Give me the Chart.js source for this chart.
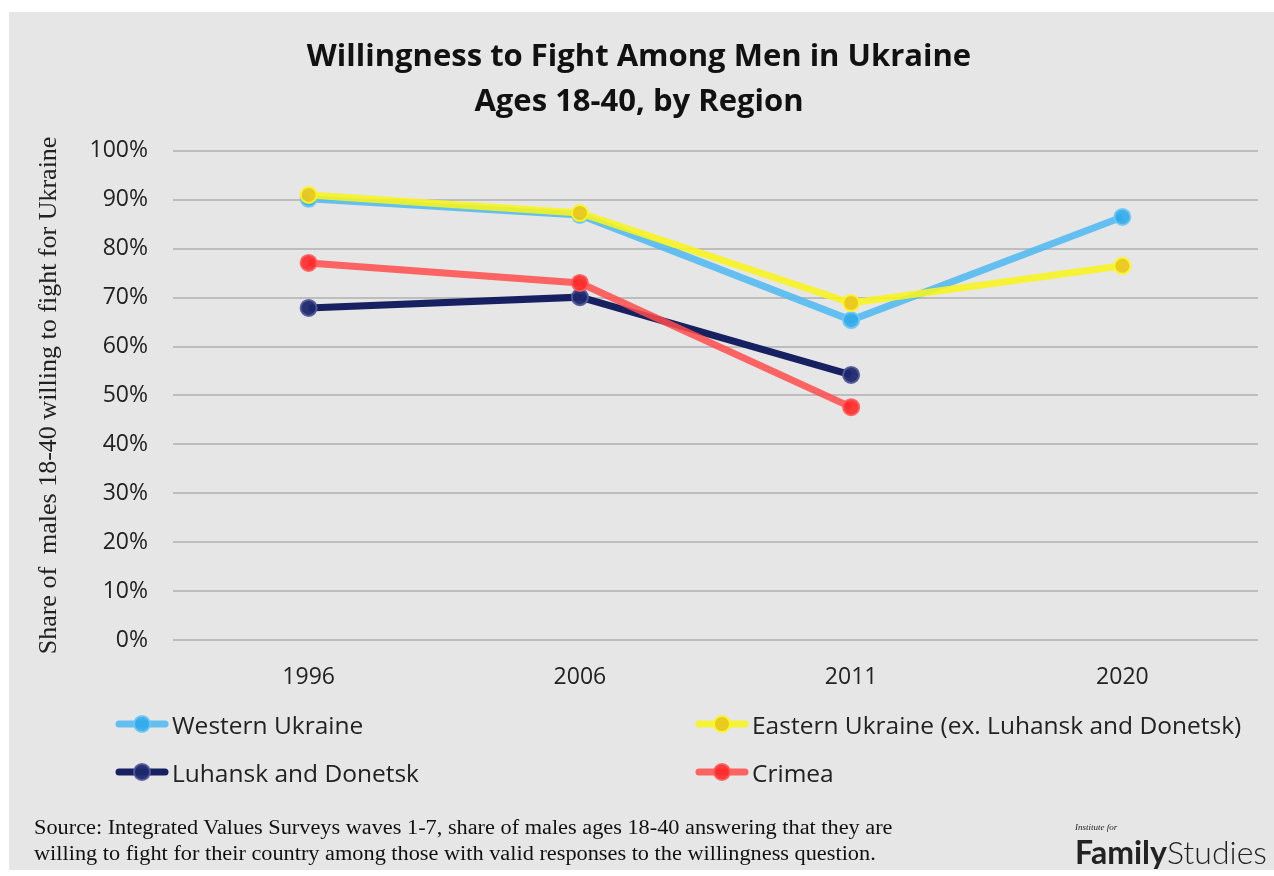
<!DOCTYPE html>
<html>
<head>
<meta charset="utf-8">
<script src="https://cdn.jsdelivr.net/npm/chart.js@4/dist/chart.umd.min.js"></script>
<style>
  html, body { margin: 0; padding: 0; background: #fff; }
  #wrap { position: relative; width: 1274px; height: 876px; overflow: hidden; }
  #panel { position: absolute; left: 9px; top: 12px; width: 1265px; height: 858px; background: #e6e6e6; }
  #chartBox { position: absolute; left: 0; top: 0; width: 1274px; height: 876px; }
  .leg { position: absolute; font-family: "Open Sans", sans-serif; font-size: 24.5px; color: #222; display: flex; align-items: center; }
  .leg canvas { margin-right: 3px; }
  #source { position: absolute; left: 34px; top: 814px; font-family: "Liberation Serif", serif; font-size: 20px; line-height: 26px; color: #111;
            transform: scaleX(1.115); transform-origin: left top; white-space: nowrap; }
  #logo { position: absolute; left: 1075px; top: 822px; font-family: Lato, sans-serif; color: #222; white-space: nowrap; }
  #logo .small { font-family: "Liberation Serif", serif; font-style: italic; font-size: 9px; display: block; }
  #logo .big { font-size: 32px; }
</style>
</head>
<body>
<div id="wrap">
  <div id="panel"></div>
  <div id="chartBox"><canvas id="c" width="1274" height="876"></canvas></div>
  <div id="legend"></div>
  <div id="source">Source: Integrated Values Surveys waves 1-7, share of males ages 18-40 answering that they are<br>willing to fight for their country among those with valid responses to the willingness question.</div>
  <div id="logo"><span class="small">Institute for</span><span class="big"><b>Family</b><span style="font-weight:300">Studies</span></span></div>
</div>
<script>
// Données
const years = ['1996', '2006', '2011', '2020'];
const western = [90.2, 86.9, 65.4, 86.5];
const eastern = [91.0, 87.3, 68.9, 76.5];
const luhansk = [67.9, 70.1, 54.2, null];
const crimea = [77.1, 73.0, 47.6, null];
const yTicks = [0, 10, 20, 30, 40, 50, 60, 70, 80, 90, 100];

// Séries : nom, valeurs, couleurs (ligne, remplissage du point, bord du point)
const series = [
    { label: 'Western Ukraine', data: western, line: 'rgba(80,185,240,0.88)', fill: 'rgba(45,170,235,0.9)', border: 'rgba(110,200,245,0.9)', order: 2 },
    { label: 'Eastern Ukraine (ex. Luhansk and Donetsk)', data: eastern, line: 'rgba(248,245,30,0.88)', fill: 'rgba(235,200,30,0.95)', border: 'rgba(250,245,40,0.95)', order: 0 },
    { label: 'Luhansk and Donetsk', data: luhansk, line: 'rgba(12,22,90,0.95)', fill: 'rgba(30,40,110,0.95)', border: 'rgba(80,90,150,0.95)', order: 3 },
    { label: 'Crimea', data: crimea, line: 'rgba(255,75,75,0.85)', fill: 'rgba(255,40,40,0.9)', border: 'rgba(255,90,90,0.9)', order: 1 }
];

// Légende en HTML, deux colonnes comme l'original
const legendPos = [[115, 706], [695, 706], [115, 754], [695, 754]];
const legendDiv = document.getElementById('legend');
series.forEach((s, i) => {
    const item = document.createElement('div');
    item.className = 'leg';
    item.style.left = legendPos[i][0] + 'px';
    item.style.top = legendPos[i][1] + 'px';
    const g = document.createElement('canvas');
    g.width = 54; g.height = 36;
    const ctx = g.getContext('2d');
    ctx.strokeStyle = s.line; ctx.lineWidth = 7; ctx.lineCap = 'round';
    ctx.beginPath(); ctx.moveTo(4, 18); ctx.lineTo(50, 18); ctx.stroke();
    ctx.beginPath(); ctx.arc(27, 18, 8, 0, Math.PI * 2);
    ctx.fillStyle = s.fill; ctx.fill();
    ctx.lineWidth = 2; ctx.strokeStyle = s.border; ctx.stroke();
    item.appendChild(g);
    const t = document.createElement('span');
    t.textContent = s.label;
    item.appendChild(t);
    legendDiv.appendChild(item);
});

new Chart(document.getElementById('c'), {
    type: 'line',
    data: {
        labels: years,
        datasets: series.map(s => ({
            label: s.label,
            data: s.data,
            order: s.order,
            borderColor: s.line,
            borderWidth: 7,
            pointRadius: 8,
            pointBorderWidth: 2,
            pointBackgroundColor: s.fill,
            pointBorderColor: s.border,
            spanGaps: false,
            tension: 0
        }))
    },
    options: {
        responsive: false,
        animation: false,
        events: [],
        layout: { padding: { left: 20, right: 16, top: 0, bottom: 176 } },
        plugins: {
            legend: { display: false },
            tooltip: { enabled: false },
            title: {
                display: true,
                text: ['Willingness to Fight Among Men in Ukraine', 'Ages 18-40, by Region'],
                color: '#111',
                font: { family: 'Open Sans', size: 31, weight: 'bold', lineHeight: 1.45 },
                padding: { top: 35, bottom: 26 }
            }
        },
        scales: {
            x: {
                offset: true,
                grid: { display: false },
                border: { display: false },
                ticks: { color: '#222', font: { family: 'Open Sans', size: 23 }, padding: 16 },
                afterFit: s => { s.height = 60; }
            },
            y: {
                min: 0,
                max: 100,
                afterBuildTicks: s => { s.ticks = yTicks.map(v => ({ value: v })); },
                grid: { color: '#bdbdbd', lineWidth: 2, drawTicks: false },
                border: { display: false },
                ticks: { color: '#222', font: { family: 'Open Sans', size: 23 }, padding: 25, callback: v => v + '%' },
                title: {
                    display: true,
                    text: 'Share of  males 18-40 willing to fight for Ukraine',
                    color: '#222',
                    font: { family: 'Liberation Serif', size: 26 },
                    padding: { top: 14, bottom: 0 }
                },
                afterFit: s => { s.width = 153; }
            }
        }
    }
});
</script>
</body>
</html>
